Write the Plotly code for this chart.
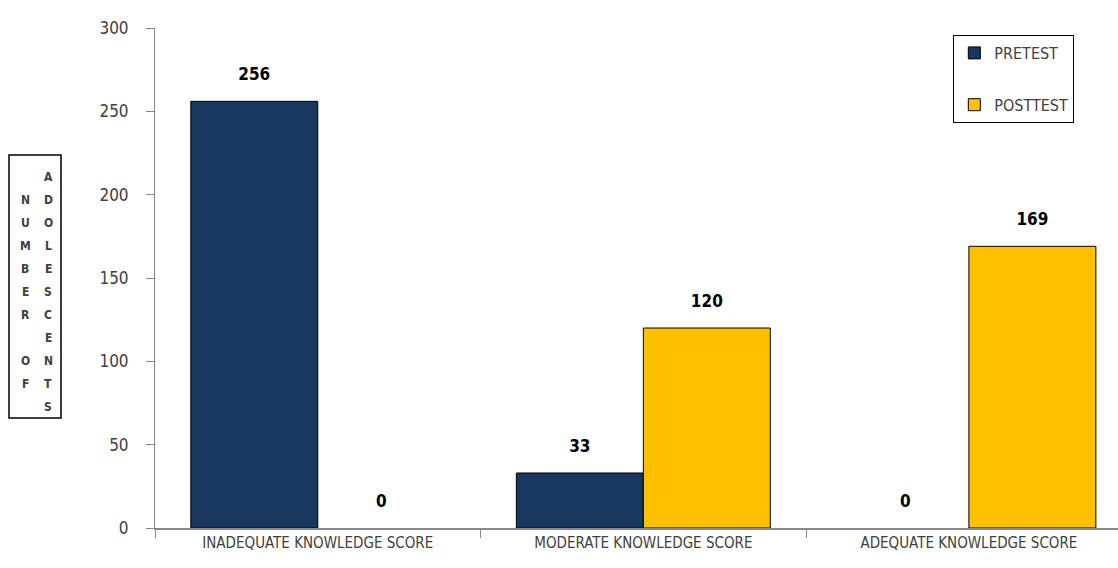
import plotly.graph_objects as go

categories = ["INADEQUATE KNOWLEDGE SCORE", "MODERATE KNOWLEDGE SCORE", "ADEQUATE KNOWLEDGE SCORE"]
pretest = [256, 33, 0]
posttest = [0, 120, 169]
series_names = ["PRETEST", "POSTTEST"]
y_ticks = [0, 50, 100, 150, 200, 250, 300]
axis_title_cols = ["NUMBER OF", "ADOLESCENTS"]

FONT = "DejaVu Sans Condensed, Liberation Sans Narrow, sans-serif"
colors = ["#17375E", "#FFC000"]

fig = go.Figure()
for i, (name, vals) in enumerate(zip(series_names, [pretest, posttest])):
    fig.add_trace(go.Bar(
        x=categories, y=vals, name=name, marker_color=colors[i],
        marker_line=dict(color="#000000", width=[1 if v > 0 else 0 for v in vals]),
        offsetgroup=str(i), legendgroup=name, showlegend=False,
    ))
    # legend entry (no visible bar)
    fig.add_trace(go.Bar(
        x=[categories[0]], y=[None], name=name, marker_color=colors[i],
        marker_line=dict(color="#000000", width=1),
        offsetgroup=str(i), legendgroup=name, showlegend=True, hoverinfo="skip",
    ))
for i, vals in enumerate([pretest, posttest]):
    fig.add_trace(go.Scatter(
        x=categories, y=vals, mode="markers+text", text=[str(v) for v in vals],
        textposition="top center", offsetgroup=str(i), showlegend=False,
        marker=dict(size=26, opacity=0), hoverinfo="skip",
        textfont=dict(family=FONT, size=17, color="#000000", weight="bold"),
        cliponaxis=False,
    ))

fig.update_layout(
    width=1118, height=568, autosize=False,
    margin=dict(l=155, r=0, t=28, b=40),
    paper_bgcolor="white", plot_bgcolor="white",
    barmode="group", scattermode="group", bargap=0.22, bargroupgap=0,
    font=dict(family=FONT, color="#404040"),
    showlegend=True,
    legend=dict(
        x=0.829, y=0.986, xanchor="left", yanchor="top",
        bordercolor="#000000", borderwidth=1, bgcolor="white",
        traceorder="grouped", tracegroupgap=28,
        font=dict(family=FONT, size=16, color="#404040"),
        itemwidth=30,
    ),
    xaxis=dict(
        range=[-0.5, 2.458], showline=True, linecolor="#888888", linewidth=2,
        ticks="outside", ticklen=8, tickcolor="#888888", tickson="boundaries",
        tickfont=dict(family=FONT, size=15, color="#404040"),
        showgrid=False, fixedrange=True, layer="above traces",
    ),
    yaxis=dict(
        range=[0, 300], tickvals=y_ticks, showline=True, linecolor="#888888", linewidth=1,
        ticks="outside", ticklen=8, tickcolor="#888888", ticklabelstandoff=14,
        tickfont=dict(family=FONT, size=17, color="#404040"),
        showgrid=False, zeroline=False,
    ),
)

# boxed vertical axis title, letters stacked
fig.add_shape(type="rect", xref="paper", yref="paper",
              x0=-146/963, x1=-94/963, y0=(528-418)/500, y1=(528-155)/500,
              line=dict(color="#000000", width=1.5), fillcolor="rgba(0,0,0,0)")
col_x = [25, 48]
col_top = [200, 177]
step = 23
for c, word in enumerate(axis_title_cols):
    for k, ch in enumerate(word):
        if ch == " ":
            continue
        ypix = col_top[c] + k * step
        fig.add_annotation(
            xref="paper", yref="paper", x=(col_x[c] - 155) / 963, y=(528 - ypix) / 500,
            text=ch, showarrow=False, xanchor="center", yanchor="middle",
            font=dict(family=FONT, size=12, color="#404040", weight="bold"),
        )

fig.write_html("out.html")
